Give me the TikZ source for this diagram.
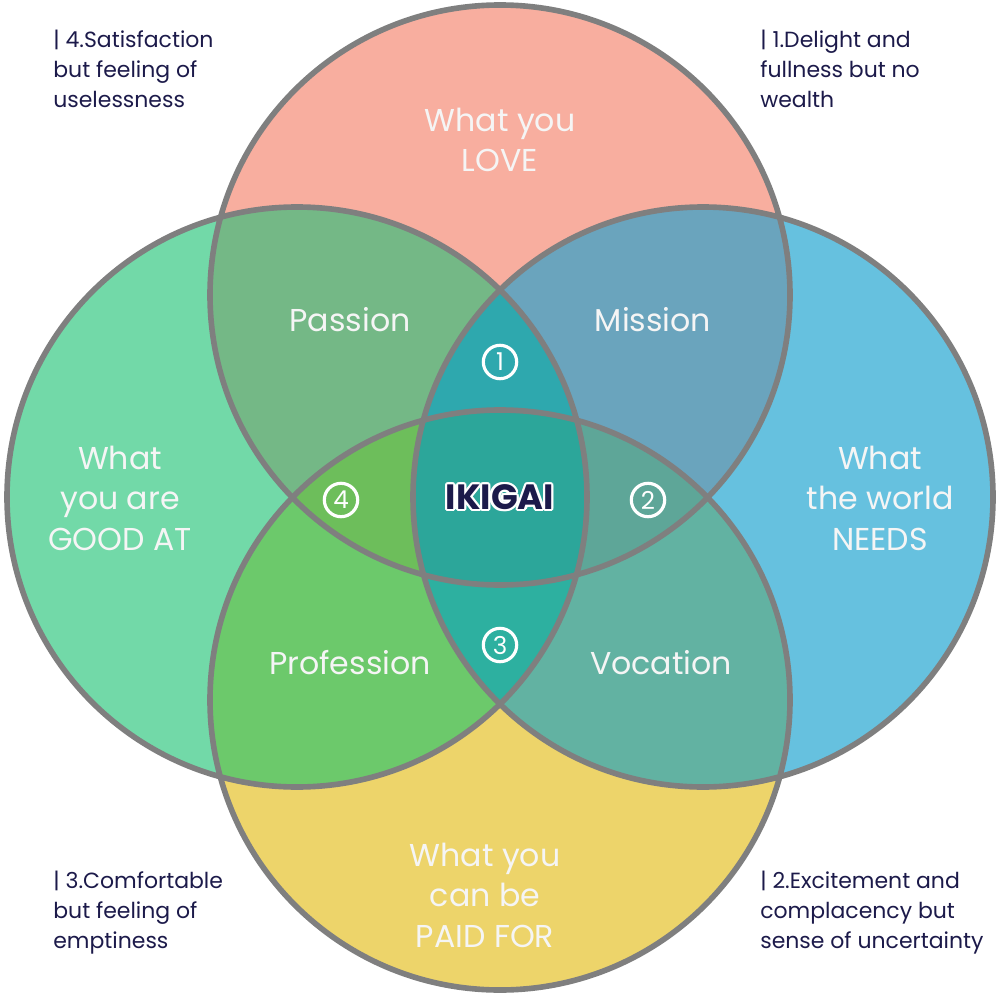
\documentclass[tikz,border=0pt]{standalone}
\usepackage{fontspec}
\setmainfont{Poppins}
\usetikzlibrary{calc}
\definecolor{loveC}{HTML}{F8AE9F}
\definecolor{goodC}{HTML}{72D9A8}
\definecolor{needC}{HTML}{66C1DF}
\definecolor{paidC}{HTML}{EDD46A}
\definecolor{passC}{HTML}{74B886}
\definecolor{missC}{HTML}{6AA4BD}
\definecolor{profC}{HTML}{6CC96B}
\definecolor{vocaC}{HTML}{62B2A2}
\definecolor{oneC}{HTML}{2EA8AE}
\definecolor{twoC}{HTML}{5EA698}
\definecolor{threeC}{HTML}{2DB0A0}
\definecolor{fourC}{HTML}{6DBE5B}
\definecolor{coreC}{HTML}{2CA69A}
\definecolor{inkC}{HTML}{1C1A4A}
\definecolor{rimC}{HTML}{7F7F7F}
\def\rT{(500,295) circle (290)}
\def\rL{(297,497) circle (290)}
\def\rR{(703,497) circle (290)}
\def\rB{(500,700) circle (290)}
\tikzset{
  big/.style={text=white!92!gray,align=center,font=\fontsize{18}{23}\selectfont},
  num/.style={circle,draw=white,line width=1.8pt,minimum size=19pt,inner sep=0pt,text=white,font=\fontsize{14}{14}\selectfont},
  note/.style={anchor=north west,align=left,inner sep=0pt,text=inkC,font=\fontsize{12.5}{17}\selectfont},
  brand/.style={font=\fontsize{20}{20}\selectfont\bfseries}
}
\begin{document}
\begin{tikzpicture}[x=0.02cm,y=-0.02cm]
  \useasboundingbox (0,0) rectangle (1000,1000);
  % single circles
  \fill[loveC] \rT;
  \fill[goodC] \rL;
  \fill[needC] \rR;
  \fill[paidC] \rB;
  % pairs
  \begin{scope}\clip \rT; \fill[passC] \rL; \fill[missC] \rR; \end{scope}
  \begin{scope}\clip \rB; \fill[profC] \rL; \fill[vocaC] \rR; \end{scope}
  % triples
  \begin{scope}\clip \rT; \clip \rL; \fill[oneC] \rR; \end{scope}
  \begin{scope}\clip \rT; \clip \rL; \fill[fourC] \rB; \end{scope}
  \begin{scope}\clip \rT; \clip \rR; \fill[twoC] \rB; \end{scope}
  \begin{scope}\clip \rB; \clip \rL; \fill[threeC] \rR; \end{scope}
  \begin{scope}\clip \rT; \clip \rB; \clip \rL; \fill[coreC] \rR; \end{scope}
  % rims
  \draw[rimC,line width=3.2pt] \rT \rL \rR \rB;

  \node[big] (love) at (500,140) {What you\\LOVE};
  \node[big] (good) at (120,498) {What\\you are\\GOOD AT};
  \node[big] (need) at (880,498) {What\\the world\\NEEDS};
  \node[big] (paid) at (485,895) {What you\\can be\\PAID FOR};
  \node[big] (pass) at (350,320) {Passion};
  \node[big] (miss) at (653,320) {Mission};
  \node[big] (prof) at (350,663) {Profession};
  \node[big] (voca) at (661,663) {Vocation};
  \node[num] (n1) at (500,362) {1};
  \node[num] (n2) at (648,500) {2};
  \node[num] (n3) at (500,645) {3};
  \node[num] (n4) at (341,500) {4};
  % white halo behind the title
  \foreach \a in {0,30,...,330}
    \node[brand,text=white] at ($(500,497)+(\a:2.2)$) {IKIGAI};
  \node[brand,text=inkC] (ikigai) at (500,497) {IKIGAI};

  \node[note] (c4) at (53,30) {| 4.Satisfaction\\but feeling of\\uselessness};
  \node[note] (c1) at (760,30) {| 1.Delight and\\fullness but no\\wealth};
  \node[note] (c3) at (53,871) {| 3.Comfortable\\but feeling of\\emptiness};
  \node[note] (c2) at (760,871) {| 2.Excitement and\\complacency but\\sense of uncertainty};
\end{tikzpicture}
\end{document}
